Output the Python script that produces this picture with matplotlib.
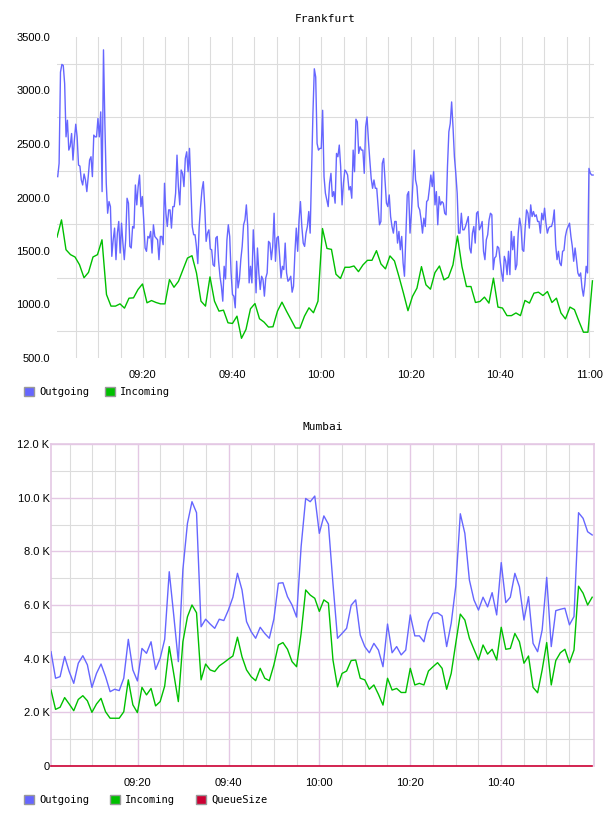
import numpy as np
import matplotlib.pyplot as plt
from matplotlib.patches import Patch
from matplotlib.ticker import FuncFormatter

# 颜色
c_out = '#6666ff'
c_in = '#00c000'
c_queue = '#cc0033'
grid_grey = '#dcdcdc'
grid_purple = '#e4c8e4'

# Frankfurt 数据 (时间单位: 09:00 之后的分钟)
fra_out = [2195, 2319, 3172, 3244, 3234, 3064, 2567, 2722, 2443, 2480, 2598, 2350, 2536, 2685, 2567, 2303,
           2294, 2164, 2117, 2220, 2164, 2055, 2195, 2350, 2381, 2195, 2583, 2567, 2567, 2738, 2567, 2800,
           2055, 3380, 2691, 2133, 1853, 1962, 1915, 1450, 1605, 1714, 1419, 1667, 1776, 1481, 1760, 1574,
           1419, 1605, 1993, 1947, 1543, 1528, 1729, 1714, 2117, 1931, 2102, 2210, 1915, 2009, 1791, 1528,
           1497, 1636, 1621, 1683, 1481, 1745, 1636, 1621, 1605, 1419, 1636, 1636, 1559, 2133, 1853, 1729,
           1884, 1884, 1714, 1915, 1915, 2040, 2396, 2102, 1931, 2257, 2226, 2102,
           2365, 2427, 2241, 2459, 2102, 1729, 1652, 1652, 1543, 1382, 1729, 1915, 2071, 2148, 1915, 1590,
           1667, 1698, 1518, 1512, 1372, 1357, 1621, 1636, 1404, 1264, 1171, 1031, 1357, 1239, 1605, 1745,
           1636, 1295, 1093, 1078, 969, 1404, 1155, 1233, 1419, 1543, 1745, 1791, 1931, 1729, 1202, 1357,
           1202, 1698, 1450, 1109, 1528, 1295, 1140, 1264, 1233, 1078, 1248, 1295, 1590, 1574, 1419, 1543,
           1853, 1404, 1621, 1636, 1450, 1248, 1357, 1326, 1574, 1295, 1217, 1233, 1264, 1115, 1171, 1481,
           1714, 1497, 1791, 1962, 1729, 1574, 1543, 1667, 1729, 1869, 1667, 2226, 2784, 3203, 3126, 2505,
           2443, 2459, 2459, 2815, 2195, 2040, 1978, 1915, 2133, 2226, 2009, 2055, 1947, 2412, 2381, 2490,
           2288, 1931, 2133, 2257, 2241, 2210, 2071, 2102, 1993, 2443, 2241, 2732, 2707, 2412, 2474, 2443,
           2443, 2226, 2660, 2753, 2536, 2350, 2179, 2086, 2164, 2086, 2086, 1915, 1745, 1776, 2319, 2365,
           2164, 1947, 1915, 2024, 1822, 1729, 1667, 1776, 1776, 1574, 1683, 1512, 1636, 1388, 1264, 1636,
           2024, 2055, 1667, 1853, 2117, 2443, 2164, 2102, 1915, 1884, 1791, 1667, 1807, 1729, 1962, 1978,
           2086, 2210, 2102, 2241, 1931, 2055, 1745, 2009, 1931, 1962, 1947, 1853, 1838, 2288, 2614, 2691,
           2893, 2660, 2381, 2226,
           2040, 1667, 1667, 1853, 1698, 1698, 1729, 1776, 1822, 1528, 1481, 1667, 1729, 1574, 1853, 1869,
           1698, 1729, 1776, 1497, 1419, 1605, 1652, 1791, 1853, 1838, 1326, 1435, 1450, 1543, 1528, 1404,
           1295, 1217, 1450, 1404, 1279, 1497, 1279, 1683, 1512, 1636, 1326, 1372, 1667, 1807, 1729, 1512,
           1497, 1714, 1884, 1853, 1714, 1931, 1822, 1869, 1822, 1838, 1776, 1776, 1667, 1853, 1791, 1900,
           1760, 1667, 1714, 1729, 1729, 1776, 1884, 1559, 1419, 1497, 1388, 1363, 1497, 1506, 1636, 1698,
           1729, 1760, 1636, 1543, 1404, 1528, 1419, 1295, 1264, 1295, 1155, 1078, 1186, 1357, 1295, 2272,
           2226, 2210, 2210]

fra_in = [1630, 1791, 1512, 1466, 1444, 1372, 1250, 1300, 1444, 1466, 1605, 1093, 985, 985, 1006, 966,
          1059, 1062, 1140, 1192, 1016, 1037, 1019, 1006, 1006, 1233, 1161, 1217, 1326, 1434, 1456,
          1295, 1031, 985, 1258, 1031, 938, 947, 829, 823, 891, 684, 767, 960, 1009, 867, 836, 789, 792,
          938, 1022, 938, 860, 780, 780, 891, 969, 923, 1031,
          1710, 1524, 1515, 1283, 1243, 1348, 1348, 1360, 1307, 1370, 1413, 1413, 1503, 1379, 1333, 1454,
          1407, 1261, 1106, 942, 1075, 1153, 1354, 1184, 1143, 1298, 1360, 1230, 1255, 1370, 1640, 1354,
          1168, 1168, 1019, 1028, 1069, 1013, 1246, 976, 967, 896, 896, 921, 896, 1038, 1013, 1106, 1115,
          1084, 1121, 1019, 1059, 921, 865, 976, 952, 843, 741, 741, 1221]

# Mumbai 数据 (单位 K)
mum_out = [4.26, 3.27, 3.33, 4.08, 3.52, 3.08, 3.83, 4.11, 3.77, 2.93, 3.45, 3.80, 3.33, 2.77, 2.86, 2.81,
           3.27, 4.72, 3.58, 3.17, 4.38, 4.20, 4.63, 3.60, 4.01, 4.72, 7.24, 5.60, 3.89, 7.32, 9.04, 9.85,
           9.44, 5.19, 5.47, 5.29, 5.13, 5.47, 5.42, 5.81, 6.29, 7.18, 6.56, 5.38, 5.01, 4.76, 5.17, 4.94,
           4.76, 5.47, 6.81, 6.83, 6.31, 6.00, 5.55, 8.18, 9.97, 9.85, 10.06, 8.67, 9.32, 9.01, 6.80, 4.76,
           4.94, 5.13, 5.99, 6.19, 4.88, 4.45, 4.22, 4.57, 4.32, 3.70, 5.29, 4.22, 4.45, 4.14, 4.32, 5.63,
           4.85, 4.85, 4.63, 5.38, 5.69, 5.71, 5.59, 4.45, 5.32, 6.70, 9.40, 8.67, 6.93, 6.19, 5.81, 6.29,
           5.93, 6.46, 5.63, 7.58, 6.09, 6.29, 7.18, 6.68, 5.44, 6.31, 4.57, 4.26, 5.07, 7.03, 4.45, 5.79,
           5.84, 5.88, 5.26, 5.57, 9.44, 9.23, 8.73, 8.61]

mum_in = [2.83, 2.11, 2.19, 2.55, 2.31, 2.06, 2.48, 2.62, 2.43, 2.00, 2.31, 2.52, 2.02, 1.78, 1.78, 1.78,
          2.02, 3.21, 2.28, 1.99, 2.93, 2.65, 2.89, 2.24, 2.40, 2.98, 4.45, 3.43, 2.40, 4.63, 5.56, 6.00,
          5.71, 3.21, 3.80, 3.58, 3.52, 3.73, 3.85, 3.98, 4.10, 4.80, 4.07, 3.58, 3.33, 3.18, 3.64, 3.27,
          3.18, 3.76, 4.51, 4.60, 4.35, 3.89, 3.70, 4.94, 6.56, 6.37, 6.25, 5.76, 6.19, 6.07, 3.95, 2.95,
          3.45, 3.54, 3.93, 3.95, 3.27, 3.21, 2.86, 3.02, 2.67, 2.27, 3.27, 2.83, 2.89, 2.74, 2.74, 3.64,
          3.02, 3.08, 3.02, 3.54, 3.70, 3.85, 3.64, 2.86, 3.45, 4.57, 5.66, 5.44, 4.76, 4.35, 3.95, 4.51,
          4.17, 4.35, 3.95, 5.17, 4.35, 4.38, 4.94, 4.63, 3.83, 4.10, 2.93, 2.73, 3.58, 4.60, 3.02, 3.93,
          4.22, 4.35, 3.85, 4.32, 6.70, 6.44, 6.00, 6.29]

mum_queue = np.zeros(len(mum_out))

# 采样时间 (分钟)
fra_out_t = np.linspace(0.9, 120.9, len(fra_out))
fra_in_t = np.linspace(0.74, 120.75, len(fra_in))
mum_t = np.linspace(0.9, 120.1, len(mum_out))


def hhmm(m, pos=None):
    m = int(round(m))
    return '{:02d}:{:02d}'.format(9 + m // 60, m % 60)


mono = 'DejaVu Sans Mono'
tick_font = 'Liberation Sans'

fig = plt.figure(figsize=(6.08, 8.16), dpi=100)

# ---------------- Frankfurt ----------------
ax1 = fig.add_axes([57 / 608, 458 / 816, 537 / 608, 321 / 816])
ax1.plot(fra_out_t, fra_out, color=c_out, lw=1.0, zorder=3)
ax1.plot(fra_in_t, fra_in, color=c_in, lw=1.0, zorder=3)
ax1.set_xlim(0.74, 121.1)
ax1.set_ylim(500, 3500)
ax1.set_yticks(np.arange(500, 3501, 500))
ax1.set_yticks(np.arange(750, 3300, 500), minor=True)
ax1.yaxis.set_major_formatter(FuncFormatter(lambda v, p: '{:.1f}'.format(v)))
ax1.set_xticks(np.arange(20, 121, 20))
ax1.set_xticks(np.arange(5, 121, 5), minor=True)
ax1.xaxis.set_major_formatter(FuncFormatter(hhmm))
ax1.grid(which='minor', color=grid_grey, lw=0.8)
ax1.grid(which='major', axis='x', color=grid_grey, lw=0.8)
ax1.set_axisbelow(True)
for s in ax1.spines.values():
    s.set_visible(False)
ax1.tick_params(which='both', length=0)
ax1.tick_params(axis='y', pad=5)
ax1.tick_params(axis='x', pad=9)
for lab in ax1.get_xticklabels() + ax1.get_yticklabels():
    lab.set_fontfamily(tick_font)
    lab.set_fontsize(8)
ax1.set_title('Frankfurt', fontfamily=mono, fontsize=8, pad=11)
ax1.legend(handles=[Patch(facecolor=c_out, edgecolor='#999999', label='Outgoing'),
                    Patch(facecolor=c_in, edgecolor='#999999', label='Incoming')],
           loc='center left', bbox_to_anchor=(24 / 608, (816 - 392) / 816), bbox_transform=fig.transFigure,
           ncol=2, frameon=False, borderpad=0, borderaxespad=0, handlelength=0.95, handleheight=0.95,
           handletextpad=0.5, columnspacing=1.5, prop={'family': mono, 'size': 7.5})

# ---------------- Mumbai ----------------
ax2 = fig.add_axes([51 / 608, 50 / 816, 543 / 608, 322 / 816])
ax2.plot(mum_t, mum_out, color=c_out, lw=1.0, zorder=3)
ax2.plot(mum_t, mum_in, color=c_in, lw=1.0, zorder=3)
ax2.plot(mum_t, mum_queue, color=c_queue, lw=1.2, zorder=4, clip_on=False)
ax2.set_xlim(0.9, 120.5)
ax2.set_ylim(0, 12)
ax2.set_yticks(np.arange(0, 12.1, 2))
ax2.set_yticks(np.arange(1, 12, 2), minor=True)
ax2.yaxis.set_major_formatter(FuncFormatter(lambda v, p: '0' if v == 0 else '{:.1f} K'.format(v)))
ax2.set_xticks(np.arange(20, 101, 20))
ax2.set_xticks([m for m in range(5, 116, 5) if m % 20], minor=True)
ax2.xaxis.set_major_formatter(FuncFormatter(hhmm))
ax2.grid(which='minor', color=grid_grey, lw=0.8)
ax2.grid(which='major', color=grid_purple, lw=1.0)
ax2.set_axisbelow(True)
for side in ['left', 'right', 'top']:
    ax2.spines[side].set_color(grid_purple)
    ax2.spines[side].set_linewidth(1.2)
ax2.spines['bottom'].set_visible(False)
ax2.tick_params(which='both', length=0)
ax2.tick_params(axis='y', pad=1)
ax2.tick_params(axis='x', pad=9)
for lab in ax2.get_xticklabels() + ax2.get_yticklabels():
    lab.set_fontfamily(tick_font)
    lab.set_fontsize(8)
ax2.set_title('Mumbai', fontfamily=mono, fontsize=8, pad=10)
ax2.legend(handles=[Patch(facecolor=c_out, edgecolor='#999999', label='Outgoing'),
                    Patch(facecolor=c_in, edgecolor='#999999', label='Incoming'),
                    Patch(facecolor=c_queue, edgecolor='#999999', label='QueueSize')],
           loc='center left', bbox_to_anchor=(24 / 608, (816 - 800) / 816), bbox_transform=fig.transFigure,
           ncol=3, frameon=False, borderpad=0, borderaxespad=0, handlelength=0.95, handleheight=0.95,
           handletextpad=0.5, columnspacing=2.0, prop={'family': mono, 'size': 7.5})

fig.savefig('out.png', dpi=100)
